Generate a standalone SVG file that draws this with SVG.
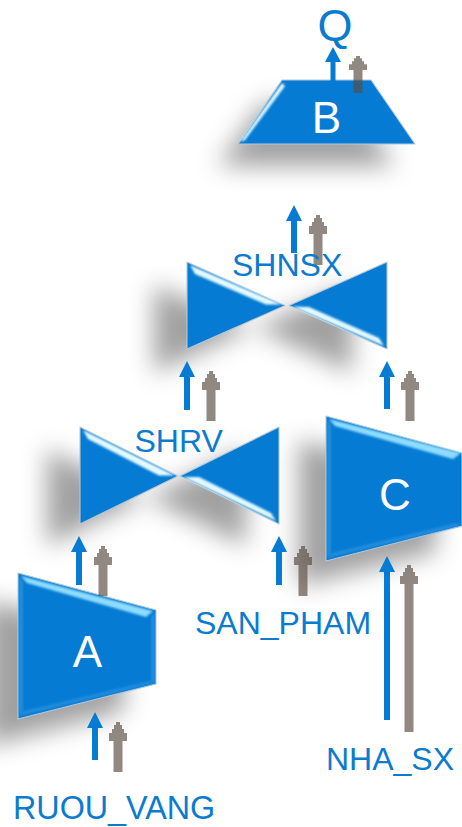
<svg xmlns="http://www.w3.org/2000/svg" xmlns:xlink="http://www.w3.org/1999/xlink" width="462" height="827" viewBox="0 0 462 827">
<style>
.body{fill:#067bd3;stroke:#b4c8d8;stroke-width:1.1;stroke-linejoin:round}
.shadow{fill:#000;fill-opacity:.37;filter:url(#blur)}
.hi{fill:#e2f9ff;filter:url(#soft)}
.top{fill:#8edcff;filter:url(#wide)}
.lo{fill:#4aa8ea;fill-opacity:.4;filter:url(#wide)}
.blue{fill:#067bd3}
.grey{fill:#5a4a42;fill-opacity:.66}
text{font-family:"Liberation Sans",Arial,sans-serif}
.lbl{fill:#0b7bd0;font-size:32px}
.big{fill:#fff;font-size:44px;text-anchor:middle}
</style>
<defs>
<filter id="blur" x="-50%" y="-50%" width="200%" height="200%"><feGaussianBlur stdDeviation="12.500"/></filter>
<filter id="soft" x="-10%" y="-60%" width="120%" height="220%"><feGaussianBlur stdDeviation=".8"/></filter>
<filter id="wide" x="-20%" y="-80%" width="140%" height="260%"><feGaussianBlur stdDeviation="1.200"/></filter>
<path id="g" d="M-2 0H2V3H4V7H6V11H9V19H4.500V50H-4.500V19H-9V11H-6V7H-4V3H-2Z"/>
</defs>
<g id="node-B">
<polygon class="shadow" points="262,104 351,104 395,166 218,166"/>
<polygon class="body" points="282,80 371,80 415,144 238,144"/>
<polygon class="hi" points="282,83 285,86 245,140 240,142"/>
<text class="big" x="326.500" y="133">B</text>
</g>
<g id="node-SHNSX">
<polygon class="shadow" points="154,285 154,373 252,328"/>
<polygon class="shadow" points="352,285 352,373 255,328"/>
<polygon class="body" points="187,262 187,349 285,305.500"/>
<polygon class="body" points="387,262 387,349 289,305.500"/>
<polygon class="hi" points="190,265 282,304.500 266,304.500 195,274"/>
<polygon class="hi" points="292,306.500 384,346 379,338 309,307"/>
</g>
<g id="node-SHRV">
<polygon class="shadow" points="47,449 47,546 145,498"/>
<polygon class="shadow" points="246,449 246,546 147,498"/>
<polygon class="body" points="80,427 80,524 178,476"/>
<polygon class="body" points="279,427 279,524 180,476"/>
<polygon class="hi" points="83,430 175,475.500 159,475.500 88,439"/>
<polygon class="hi" points="183,477 276,521 271,513 199,477"/>
</g>
<g id="node-A">
<polygon class="shadow" points="-14,600 124,637 124,711 -14,746"/>
<polygon class="body" points="18,573 156,610 156,684 18,719"/>
<polygon class="top" points="21,576 153,611 146,617 27,583"/>
<polygon class="lo" points="19,577 23,582 23,711 19,716"/>
<polygon class="lo" points="155,613 151,617 151,681 155,683"/>
<polygon class="lo" points="19,716 24,711 150,681 155,683"/>
<text class="big" x="87.500" y="667">A</text>
</g>
<g id="node-C">
<polygon class="shadow" points="299,440 436,478 436,552 299,586"/>
<polygon class="body" points="326,416 462,453 462,526 326,561"/>
<polygon class="top" points="329,419 461,453 453,459 335,426"/>
<polygon class="lo" points="327,420 331,425 331,553 327,558"/>
<polygon class="lo" points="327,558 332,553 457,523 461,526"/>
<text class="big" x="395" y="510">C</text>
</g>
<g id="connectors">
<g id="blue-arrows" class="blue">
<path d="M333 47l8 15h-5.500v20h-5v-20h-5.500z"/>
<path d="M294 205l8 16h-5v32h-6v-32h-5z"/>
<path d="M187 361l8 16h-5v33h-6v-33h-5z"/>
<path d="M387 361l8 16h-5v32h-6v-32h-5z"/>
<path d="M79 536l8 16h-5v33h-6v-33h-5z"/>
<path d="M279 536l8 16h-5v33h-6v-33h-5z"/>
<path d="M95 712l8 16h-5v32h-6v-32h-5z"/>
<path d="M387 556l8 16h-5v148h-6v-148h-5z"/>
</g>
<g id="grey-arrows" class="grey">
<use xlink:href="#g" href="#g" transform="translate(358,56) scale(1,.74)"/>
<use xlink:href="#g" href="#g" x="318" y="215"/>
<use xlink:href="#g" href="#g" x="211" y="371"/>
<use xlink:href="#g" href="#g" x="410" y="371"/>
<use xlink:href="#g" href="#g" x="103" y="546"/>
<use xlink:href="#g" href="#g" x="303" y="546"/>
<use xlink:href="#g" href="#g" x="118" y="722"/>
<path d="M407 565h4v3h2v4h2v4h3v8h-4.500v148h-9v-148h-4.500v-8h3v-4h2v-4h2z"/>
</g>
</g>
<g id="labels">
<text class="lbl" x="335" y="41" style="font-size:45px" text-anchor="middle">Q</text>
<text class="lbl" x="232" y="276">SHNSX</text>
<text class="lbl" x="134.500" y="452">SHRV</text>
<text class="lbl" x="195" y="634">SAN_PHAM</text>
<text class="lbl" x="326" y="770">NHA_SX</text>
<text class="lbl" x="13" y="819" style="font-size:32.300px">RUOU_VANG</text>
</g>
</svg>
